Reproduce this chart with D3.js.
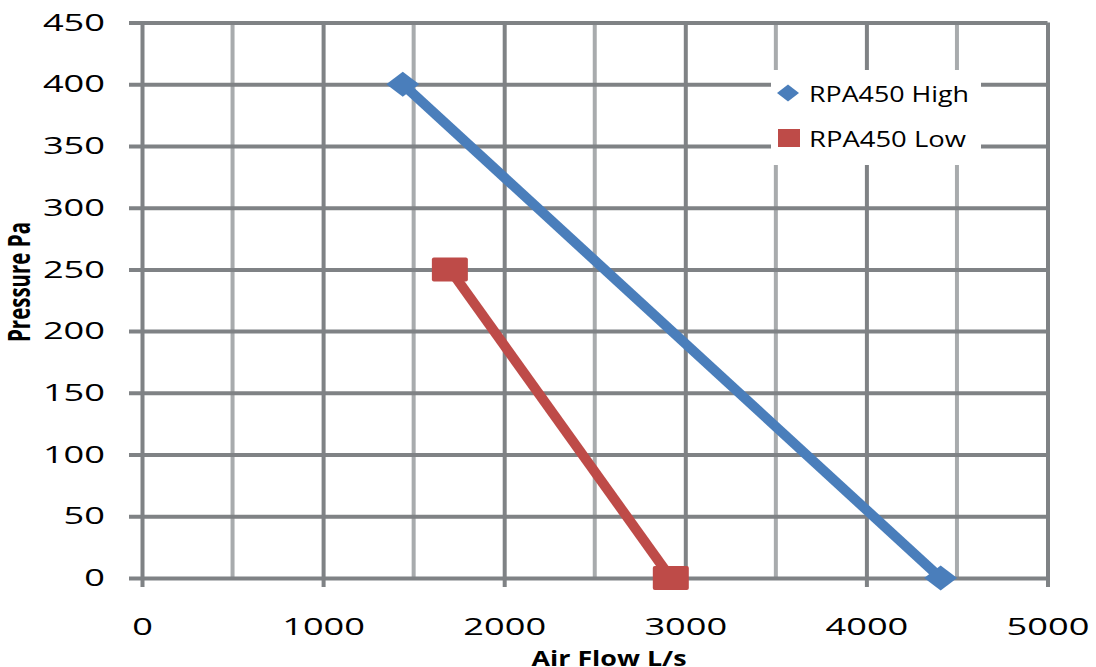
<!DOCTYPE html>
<html>
<head>
<meta charset="utf-8">
<script src="https://cdn.jsdelivr.net/npm/d3@7"></script>
<style>
body { margin: 0; background: #fff; }
text { font-family: "Open Sans", sans-serif; fill: #000; }
</style>
</head>
<body>
<div id="chart"></div>
<script>

var width = 1096;
var height = 667;

// data
var seriesNames = ["RPA450 High", "RPA450 Low"];
var highFlow = [1440, 4410];
var highPressure = [400, 0];
var lowFlow = [1700, 2920];
var lowPressure = [250, 0];

var xTicks = [0, 1000, 2000, 3000, 4000, 5000];
var xMinorTicks = [500, 1500, 2500, 3500, 4500];
var yTicks = [0, 50, 100, 150, 200, 250, 300, 350, 400, 450];

var blue = "#4a7ebb";
var red = "#be4b48";
var darkGrid = "#7f8285";
var lightGrid = "#a8abad";

// plot box (note: "top" is taken by window.top)
var plotLeft = 142, plotRight = 1047.5, plotTop = 22.5, plotBottom = 578;

var x = d3.scaleLinear().domain([0, 5000]).range([plotLeft, plotRight]);
var y = d3.scaleLinear().domain([0, 450]).range([plotBottom, plotTop]);

var svg = d3.select("#chart").append("svg")
   .attr("width", width)
   .attr("height", height);

// light vertical grid at the half thousands
svg.append("g").selectAll("line")
   .data(xMinorTicks)
   .enter().append("line")
   .attr("x1", function(d) { return x(d); })
   .attr("x2", function(d) { return x(d); })
   .attr("y1", plotTop)
   .attr("y2", plotBottom)
   .style("stroke", lightGrid)
   .style("stroke-width", 4);

// y axis: horizontal grid + labels
var yAxis = svg.append("g")
   .attr("transform", "translate(129,0)")
   .call(d3.axisLeft(y).tickValues(yTicks).tickFormat(d3.format("d"))
      .tickSize(-(plotRight - 129)).tickPadding(24));
yAxis.select(".domain").remove();
yAxis.selectAll(".tick line").style("stroke", darkGrid).style("stroke-width", 4);
yAxis.selectAll(".tick text")
   .style("font-size", "24px")
   .style("font-family", "Open Sans")
   .attr("textLength", function(d) { return String(d).length * 20.7; })
   .attr("lengthAdjust", "spacingAndGlyphs");

// x axis: vertical grid + labels
var xAxis = svg.append("g")
   .attr("transform", "translate(0,587)")
   .call(d3.axisBottom(x).tickValues(xTicks).tickFormat(d3.format("d"))
      .tickSize(-(587 - plotTop)).tickPadding(31));
xAxis.select(".domain").remove();
xAxis.selectAll(".tick line").style("stroke", darkGrid).style("stroke-width", 4);
xAxis.selectAll(".tick text")
   .style("font-size", "24px")
   .style("font-family", "Open Sans")
   .attr("textLength", function(d) { return String(d).length * 20.7; })
   .attr("lengthAdjust", "spacingAndGlyphs");

// series lines
var line = d3.line()
   .x(function(d) { return x(d[0]); })
   .y(function(d) { return y(d[1]); });

var highPts = d3.zip(highFlow, highPressure);
var lowPts = d3.zip(lowFlow, lowPressure);

svg.append("path")
   .datum(highPts)
   .attr("d", line)
   .style("fill", "none")
   .style("stroke", blue)
   .style("stroke-width", 10);

svg.append("path")
   .datum(lowPts)
   .attr("d", line)
   .style("fill", "none")
   .style("stroke", red)
   .style("stroke-width", 10);

function diamond(w, h) {
   return "M0," + (-h / 2) + "L" + (w / 2) + ",0L0," + (h / 2) + "L" + (-w / 2) + ",0Z";
}

svg.append("g").selectAll("path")
   .data(highPts)
   .enter().append("path")
   .attr("transform", function(d) { return "translate(" + x(d[0]) + "," + y(d[1]) + ")"; })
   .attr("d", diamond(33, 25))
   .style("fill", blue);

svg.append("g").selectAll("rect")
   .data(lowPts)
   .enter().append("rect")
   .attr("x", function(d) { return x(d[0]) - 18; })
   .attr("y", function(d) { return y(d[1]) - 12; })
   .attr("width", 36)
   .attr("height", 24)
   .attr("rx", 2)
   .style("fill", red);

// legend
svg.append("rect")
   .attr("x", 771)
   .attr("y", 70)
   .attr("width", 210)
   .attr("height", 95)
   .style("fill", "#fff");

svg.append("path")
   .attr("transform", "translate(788,93)")
   .attr("d", diamond(22, 17))
   .style("fill", blue);

svg.append("rect")
   .attr("x", 778)
   .attr("y", 129)
   .attr("width", 22)
   .attr("height", 18)
   .style("fill", red);

svg.append("text")
   .attr("x", 809)
   .attr("y", 101.5)
   .attr("textLength", 160)
   .attr("lengthAdjust", "spacingAndGlyphs")
   .style("font-size", "22px")
   .text(seriesNames[0]);

svg.append("text")
   .attr("x", 809)
   .attr("y", 146.5)
   .attr("textLength", 157)
   .attr("lengthAdjust", "spacingAndGlyphs")
   .style("font-size", "22px")
   .text(seriesNames[1]);

// axis titles
svg.append("text")
   .attr("x", 609)
   .attr("y", 665.5)
   .attr("text-anchor", "middle")
   .attr("textLength", 155)
   .attr("lengthAdjust", "spacingAndGlyphs")
   .style("font-size", "22px")
   .style("font-weight", "bold")
   .text("Air Flow L/s");

svg.append("text")
   .attr("transform", "translate(30,282) rotate(-90)")
   .attr("text-anchor", "middle")
   .attr("textLength", 120)
   .attr("lengthAdjust", "spacingAndGlyphs")
   .style("font-size", "30px")
   .style("font-weight", "bold")
   .text("Pressure Pa");

</script>
</body>
</html>
